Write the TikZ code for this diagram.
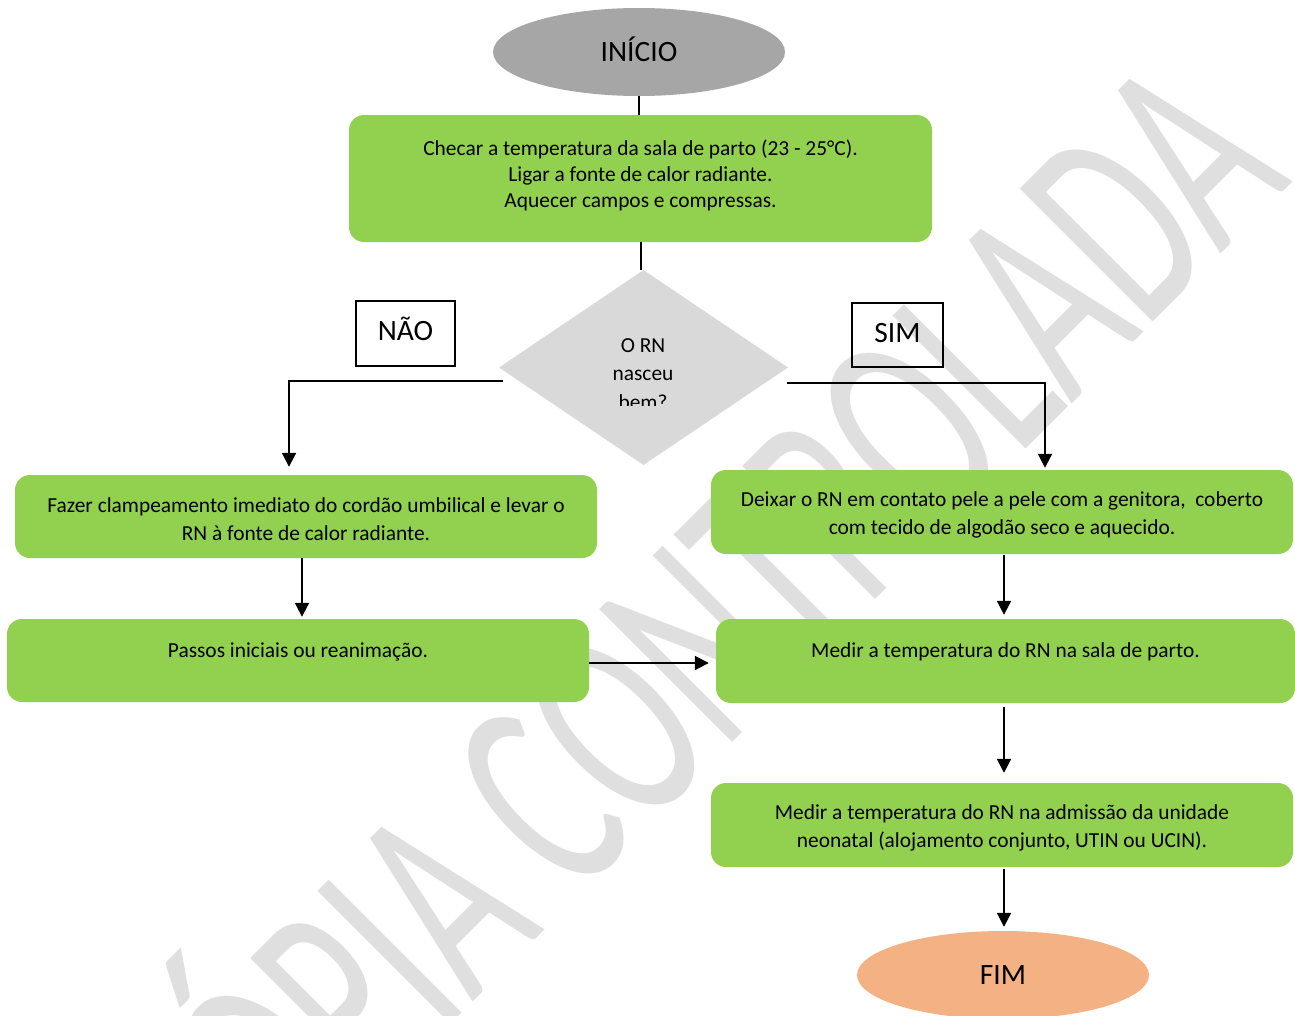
\documentclass[tikz,border=0pt]{standalone}
\usepackage{fontspec}
\setmainfont{Carlito}
\usetikzlibrary{shapes.geometric,arrows.meta,calc}
\definecolor{boxgreen}{HTML}{92D050}
\definecolor{startgray}{HTML}{A6A6A6}
\definecolor{decgray}{HTML}{D9D9D9}
\definecolor{endorange}{HTML}{F4B183}
\definecolor{wmgray}{HTML}{DFDFDF}
\tikzset{
  stepbox/.style={rectangle, rounded corners=15pt, fill=boxgreen, inner sep=0pt,
    align=center, font=\fontsize{21.4}{28}\selectfont},
  term/.style={ellipse, inner sep=0pt, minimum width=292pt, minimum height=88pt,
    text height=19pt, text depth=0pt, font=\fontsize{29.5}{34}\selectfont},
  tag/.style={rectangle, draw=black, line width=1.3pt, inner sep=0pt,
    text height=19pt, text depth=5pt, font=\fontsize{29.5}{34}\selectfont},
  conn/.style={line width=2pt, draw=black},
  arr/.style={conn, -{Triangle[length=14pt,width=14pt]}},
  wm/.style={anchor=base, inner sep=0pt, rotate=45, xscale=0.61, text=wmgray,
    font=\fontsize{293}{293}\selectfont},
}
\newcommand{\topstrut}{\rule{0pt}{21pt}}
\begin{document}
\begin{tikzpicture}[x=1pt,y=-1pt]
\useasboundingbox[fill=white] (0,0) rectangle (1295,1015);

% watermark
\node[wm] (wmark) at (759,716) {CÓPIA CONTROLADA};

% shapes
\node[term, fill=startgray] (start) at (639,52) {INÍCIO};
\node[stepbox, minimum width=583pt, minimum height=127pt, font=\fontsize{21.4}{26}\selectfont] (b1) at (640.5,178.5)
  {Checar a temperatura da sala de parto (23 - 25°C).\\Ligar a fonte de calor radiante.\\Aquecer campos e compressas.\rule[-10pt]{0pt}{10pt}};
\node[diamond, fill=decgray, inner sep=0pt, minimum width=289pt, minimum height=195pt] (dec) at (643.5,367.5) {};
\begin{scope}
  \clip (500,320) rectangle (790,405);
  \node[align=center, inner sep=0pt, font=\fontsize{21.4}{28.5}\selectfont] (dtext) at (643,374) {O RN\\nasceu\\bem?};
\end{scope}
\node[tag, minimum width=99pt, minimum height=65pt] (nao) at (405.5,333.5) {NÃO};
\node[tag, minimum width=91pt, minimum height=64pt] (sim) at (897.5,335) {SIM};

\node[stepbox, minimum width=582pt, minimum height=83pt] (b2) at (306,516.5)
  {\topstrut Fazer clampeamento imediato do cordão umbilical e levar o\\RN à fonte de calor radiante.};
\node[stepbox, minimum width=582pt, minimum height=84pt] (b3) at (1002,512)
  {\topstrut Deixar o RN em contato pele a pele com a genitora,\ \ coberto\\com tecido de algodão seco e aquecido.};
\node[stepbox, minimum width=582pt, text height=38pt, text depth=45pt] (b4) at (298,660.5)
  {Passos iniciais ou reanimação.};
\node[stepbox, minimum width=579pt, text height=38pt, text depth=46pt] (b5) at (1005.5,661)
  {Medir a temperatura do RN na sala de parto.};
\node[stepbox, minimum width=582pt, minimum height=84pt] (b6) at (1002,825)
  {\topstrut Medir a temperatura do RN na admissão da unidade\\neonatal (alojamento conjunto, UTIN ou UCIN).};
\node[term, fill=endorange] (fim) at (1003,975) {FIM};

% connectors
\draw[conn] (start.south) -- (start.south |- b1.north);
\draw[conn] (b1.south) -- (b1.south |- dec.north);
\draw[arr, shorten >=8pt] ([shift={(4pt,-13.5pt)}]dec.west) -| ([xshift=-17pt]b2.north);
\draw[arr, shorten >=2pt] ([shift={(-1pt,-15.5pt)}]dec.east) -| ([xshift=43pt]b3.north);
\draw[arr, shorten >=2pt] ([xshift=-4pt]b2.south) -- ([xshift=4pt]b4.north);
\draw[arr, shorten >=4pt, shorten <=1pt] ([xshift=2pt]b3.south) -- ([xshift=-1.5pt]b5.north);
\draw[arr, shorten >=7pt] ([yshift=-2.5pt]b4.east) -- ([yshift=-2pt]b5.west);
\draw[arr, shorten >=10pt, shorten <=4pt] ([xshift=-1.5pt]b5.south) -- ([xshift=2pt]b6.north);
\draw[arr, shorten >=4pt, shorten <=2pt] ([xshift=2pt]b6.south) -- ([xshift=1pt]fim.north);
\end{tikzpicture}
\end{document}
